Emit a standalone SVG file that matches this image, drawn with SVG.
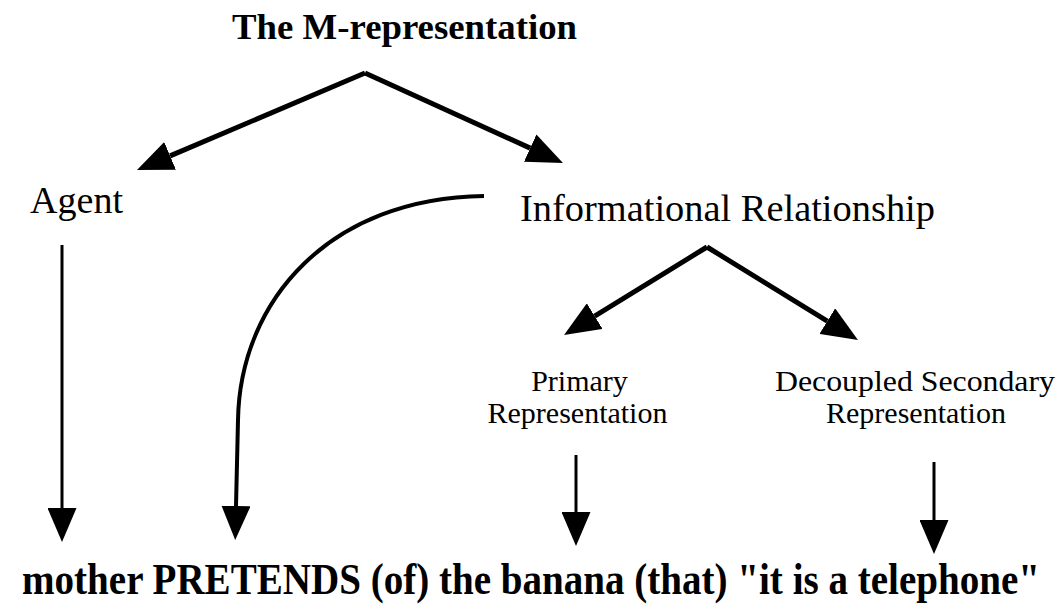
<svg xmlns="http://www.w3.org/2000/svg" width="1062" height="607" viewBox="0 0 1062 607">
<style>
text{font-family:"Liberation Serif","Times New Roman",serif;fill:#000}
.title{font-size:36px;font-weight:bold}
.big{font-size:37px}
.small{font-size:30px}
.sent{font-size:39px;font-weight:bold}
.c{fill:none;stroke:#000;stroke-linecap:butt}
.thick{stroke-width:5}
.mid{stroke-width:4}
.thin{stroke-width:3}
</style>
<defs>
<marker id="ah" markerUnits="userSpaceOnUse" viewBox="0 0 36 30" markerWidth="36" markerHeight="30" refX="0" refY="15" orient="auto">
<path d="M0,0 L36,15 L0,30 Z" fill="#000"/>
</marker>
<marker id="ah2" markerUnits="userSpaceOnUse" viewBox="0 0 34 29" markerWidth="34" markerHeight="29" refX="0" refY="14.5" orient="auto">
<path d="M0,0 L34,14.5 L0,29 Z" fill="#000"/>
</marker>
</defs>
<g id="connectors">
<path class="c thick" d="M365,73 L170.1,155.9" marker-end="url(#ah)"/>
<path class="c thick" d="M365,73 L530.2,148.1" marker-end="url(#ah)"/>
<path class="c thick" d="M707,247 L594.7,316.1" marker-end="url(#ah)"/>
<path class="c thick" d="M707,247 L827.3,321.1" marker-end="url(#ah)"/>
<path class="c thin" d="M62,245 L62,508" marker-end="url(#ah2)"/>
<path class="c mid" d="M484,196 C330,198 240,300 238,420 L236,506" marker-end="url(#ah2)"/>
<path class="c thin" d="M576,455 L576,512" marker-end="url(#ah2)"/>
<path class="c thin" d="M934,462 L934,520" marker-end="url(#ah2)"/>
</g>
<g id="node-m-representation"><text class="title" x="232" y="39" textLength="345" lengthAdjust="spacingAndGlyphs">The M-representation</text></g>
<g id="node-agent"><text class="big" x="30" y="213" textLength="93" lengthAdjust="spacingAndGlyphs">Agent</text></g>
<g id="node-informational"><text class="big" x="520" y="221" textLength="415" lengthAdjust="spacingAndGlyphs">Informational Relationship</text></g>
<g id="node-primary">
<text class="small" x="579.5" y="391" text-anchor="middle">Primary</text>
<text class="small" x="577.5" y="423" text-anchor="middle">Representation</text>
</g>
<g id="node-decoupled">
<text class="small" x="915" y="391" text-anchor="middle" textLength="280" lengthAdjust="spacingAndGlyphs">Decoupled Secondary</text>
<text class="small" x="916" y="423" text-anchor="middle">Representation</text>
</g>
<g id="node-sentence"><text class="sent" transform="translate(22,594) scale(1,1.12)" x="0" y="0" textLength="1018" lengthAdjust="spacingAndGlyphs">mother PRETENDS (of) the banana (that) "it is a telephone"</text></g>
</svg>
